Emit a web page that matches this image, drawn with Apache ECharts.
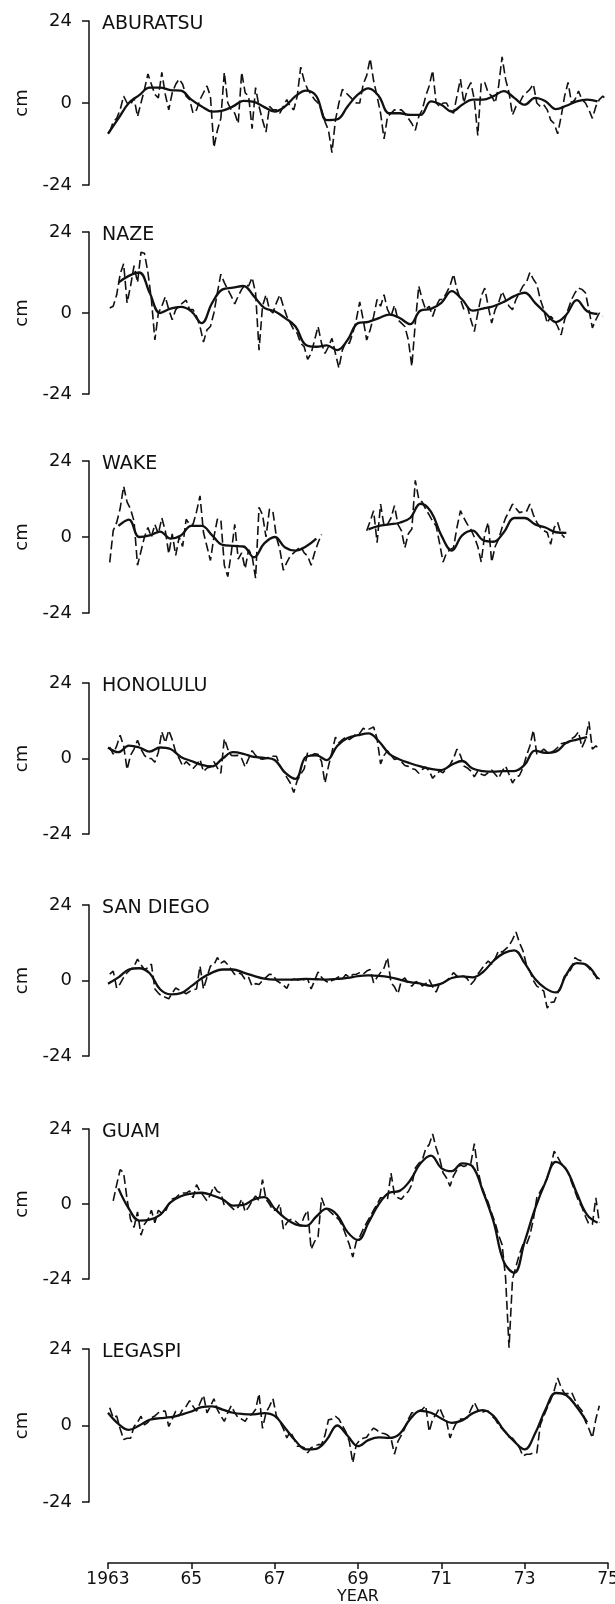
<!DOCTYPE html>
<html style="height: 100%">
<head>
    <meta charset="utf-8">
    <script src="https://cdn.jsdelivr.net/npm/echarts@6/dist/echarts.min.js"></script>
</head>
<body style="height: 100%; margin: 0; background: #fff">
    <div id="main" style="width: 615px; height: 1604px;"></div>
    <script type="text/javascript">
        // station names, top to bottom
        var stations = ['ABURATSU', 'NAZE', 'WAKE', 'HONOLULU', 'SAN DIEGO', 'GUAM', 'LEGASPI'];
        var yearLabels = ['1963', '65', '67', '69', '71', '73', '75'];

        // monthly sea level anomaly (cm), Jan 1963 .. Dec 1974, dashed curves
        var aburatsuMonthly = [
            -8.5, -5.5, -4.5, -2, 2, 0, -0.5, 1.5, -4, 0, 4, 8.5,
            5.5, 2.5, 1.5, 9, 2.5, -2, 3, 5.5, 7, 5.5, 2, 1,
            -3, -2, 1, 3, 5, 2, -13, -8, -4.5, 9, 0, -2,
            -3, -6, 9, 3, 2, -7.5, 4.5, -1, -5, -8.5, -1, -2,
            -2, -3, -1, 1, -1, -2, 2, 10.5, 6.5, 4, 2.5, 1,
            0, -2, -5.5, -8, -14.5, -5, 0, 4, 3, 2, 1, 0,
            0, 5.5, 8, 13, 6.5, 2, -3, -10.5, -4, -3, -2, -2,
            -2, -3, -4.5, -6, -8, -4, -2, 2, 5, 9.5, 0, -1,
            0, 0, -2, -3, 2, 7, 0, 4, 6, 1, -9.5, 6,
            6, 3, 2, 0, 5, 13.5, 7, 3, -3.5, -1, 0, 2,
            3, 4, 5.5, 0, -1, -0.5, -2, -5, -6, -9, -4, 2,
            6, 0, 1, 3.5, 1, 0, -2, -4.5, -1, 1, 2, 1
        ];
        var nazeMonthly = [
            1.5, 2, 5.4, 11.5, 14.6, 3, 8, 14, 9, 18, 17.7, 12,
            4, -8, 0, 2, 4.8, 1, -2, 1, 2, 3, 3.8, 1,
            1, -1, -4, -8.6, -5, -4, 0, 6, 11.5, 9, 7, 5,
            2.7, 5, 7, 8.5, 8, 10.5, 6, -11, 2, 5.4, 1, 0,
            3, 5.4, 2, -1, -3, -5, -6, -9, -10, -13.7, -12, -8,
            -4, -9, -12, -10, -7.5, -12, -16.3, -11, -8.6, -9, -6, -2,
            3.3, -2, -8, -5, -1, 4, 2, 5.4, 1, -1, 2.3, -2,
            -3, -4, -8, -15.8, -3, 8, 4, 1, 2, -1, 2, 4,
            4, 6, 8, 11.5, 7, 4, 1, 2, -2, -5.5, 0, 5,
            7.4, 2, -3, 1, 3, 6.4, 4, 2, 1, 4, 6, 8,
            9, 12, 10, 8.5, 4, 1, -3, -1, -2, -4, -6.5, -2,
            1, 4, 6, 7.4, 7, 6, 1, -4.4, -2, 0, -1, null
        ];
        var wakeMonthly = [
            -8, 2, 4.6, 9, 16, 11, 8.8, 5, -8.9, -4.5, 0, 3,
            0, 4, 1, 6, 2, -5.3, 1, -5.8, 0, -3, 5.6, 4,
            4, 8, 13, 1.4, -3, -7.4, 0, 5.6, 5.6, -8.9, -12.5, -5,
            4, -7, -5, -10, -4, -6, -13, 9.4, 7, 0, 8.8, 8,
            0, -4, -10.5, -8, -6, -5, -4, -3, -5, -6, -8.9, -5,
            -1.8, 0.8, null, null, null, null, null, null, null, null, null, null,
            null, null, 2, 5, 8.3, -1.8, 10.4, 3.5, 4, 6, 9.9, 4,
            2, -3.4, 1, 2.5, 17.9, 12, 11, 8.8, 7, 5, 3.5, -2,
            -7.9, -5, -4, -3.4, 3, 8.3, 6, 4, 2.4, 0, -3, -7.9,
            1, 4.6, -7.9, -3, -0.7, 3, 6, 8, 10.4, 9, 7.7, 8,
            8, 10.4, 7, 4.6, 3, 2, 1.4, -2.3, 3, 4.6, 1, -0.2,
            null, null, null, null, null, null, null, null, null, null, null, null
        ];
        var honoluluMonthly = [
            3.6, 1.4, 4, 7.4, 4, -3.5, 1, 3, 5.8, 3, 1, 0,
            0, -1.2, 2, 8.5, 5, 9, 6, 2, 0, -2.4, -1, -2,
            -3.2, -2, -0.3, -4.2, -3, -2.7, -1, -3, -4.7, 6.3, 3, 1,
            0.9, 1, 0, -2.7, 0, 2.5, 1, 0, -0.2, 0, 0.5, 0.7,
            0.7, -2.2, -4, -6, -7.8, -10.8, -7, -5, -3.3, 2, 1, 1.5,
            1.3, -1, -7.8, -2.4, 2, 6.8, 5, 6, 6.8, 6, 6.8, 8,
            8, 9.6, 9, 9.5, 10, 6.3, -1.7, 1, 2.5, 1, -0.3, 0,
            -1, -2.2, -2.5, -3.2, -3.5, -4.7, -3.5, -2.7, -4, -6.3, -5, -4,
            -4.5, -3, -2, 0, 3, 1, -2.4, -3, -4, -5.8, -4, -5,
            -5.4, -4.5, -3.7, -5, -6.3, -4, -2.4, -5, -7.8, -6, -5.4, -3,
            0.8, 4, 9, 1.4, 2, 3, 2, 1.9, 2.5, 3.5, 4.7, 5,
            5, 6.3, 7, 8.5, 3.5, 6, 11.7, 3, 4, 3, null, null
        ];
        var sanDiegoMonthly = [
            2, 3, -2.4, -1, 1, 2.5, 3.5, 4.5, 6.8, 5, 3.5, 4,
            5.2, -2.7, -4, -5, -5.3, -5.8, -4, -2.4, -3, -3.5, -4.2, -3.5,
            -3, -2.7, 4.6, -2.7, 1, 4.6, 5, 7.3, 5.5, 6.2, 5, 3.5,
            1.9, 2.5, 2, 0.3, 1, -1.8, -1, -1.3, 0, 1, 2, 1.9,
            0, -0.7, -1.5, -2.5, 0, 0.5, 0.3, 0, 0.3, 0.5, -2.7, 0,
            2.7, 1, 0, -0.7, 0, 0.5, 1.2, 0.5, 1.9, 1, 1.9, 2,
            2.5, 2, 3, 3.5, -0.7, 1, 2.5, 4, 7.3, -0.7, -2, -4.2,
            0, 0.8, -1, -1.8, -0.5, -0.2, -1.8, -1, 0.3, -2, -3.7, -1,
            -0.7, 0, 1, 2.5, 1.4, 1, 1.4, 0.5, -1.3, 0, 2, 3.5,
            5, 6.2, 5.2, 7, 9.5, 9, 10, 11, 13, 15.4, 12, 9.5,
            5, 3, 0, -1.8, -2.5, -3.4, -8.8, -7, -6.8, -4, -1.8, 1.4,
            2, 4, 7.3, 6.5, 6.2, 5, 4, 2.5, 1.4, 0.5, -0.2, null
        ];
        var guamMonthly = [
            null, 1, 6.2, 11, 10, 1.5, -5, -7.5, -2.5, -10, -6.5, -5,
            -2, -6, -2, -3, -2.5, 0, 1.6, 2, 3, 3.5, 3.5, 4.2,
            2, 6.2, 4, 2.6, 1, 3, 5.7, 4, 3.5, -0.5, 0, -1,
            -2, -1, 1.6, -2.5, -1, 1, 2.6, 1, 7.8, 1.5, 0, -2,
            -2, 0, -8, -6, -5, -5, -6, -7, -4, -2, -14.5, -12,
            -10.5, 2, -1, -2, -3, -4, -5, -7, -10, -13, -17, -12,
            -10.5, -8, -6, -4, -2, 0, 2, 2, 1.5, 9.9, 3, 2,
            1.5, 3, 4, 6.2, 11.5, 13, 14, 17.7, 19, 22.4, 18, 14.6,
            10, 8.3, 5.7, 9, 11, 12.5, 12, 12.5, 13, 19.3, 11, 6,
            3, 0.5, -3, -6, -10, -13, -23.5, -46, -24, -20, -16, -13,
            -13, -10, -5, 2, 4, 6, 8.3, 12, 16.9, 15, 13, 12,
            10, 7, 4, 1, -1, -4, -6.5, -6.5, 2, -6, null, null
        ];
        var legaspiMonthly = [
            5.6, 2.4, 3, -1, -4.4, -4, -4, -0.3, 1, 2.9, 0.2, 1,
            2.4, 3, 4, 4.5, 4.5, -0.3, 2, 4.5, 3, 5, 6, 7.8,
            6, 4.5, 7, 9.5, 4, 6, 8.4, 5, 3, 1.3, 4, 6.2,
            4, 2.4, 2, 1.3, 3, 3.5, 5, 10, -0.9, 4, 6, 8.4,
            3, 1.3, -1, -3.9, -1.9, -4, -6.5, -6.5, -7, -8.6, -7, -6.5,
            -6, -6, -3, 1.8, 2, 2.9, 2, 0, -2, -5, -11.7, -6,
            -4.6, -4, -3.7, -2, -0.8, -1.5, -2.4, -2.5, -3, -4, -9, -5,
            -3, -0.8, 2, 4, 4, 4.6, 5, 6.2, -1.9, 2, 3.5, 5.6,
            3, 1.3, -3.9, -1, 1.3, 2, 2, 2.4, 5, 7.3, 5, 4,
            4.5, 4.5, 3, 2, 0.2, -1, -2, -3.6, -4, -5.4, -7, -9.6,
            -9, -9, -8.6, -8.6, 0.2, 3, 5.6, 8, 11, 14.9, 12, 10,
            10, 10.5, 8, 6, 4.6, 1.3, -1, -3.9, 2, 6.2, null, null
        ];

        // smoothed curves (cm), every quarter year 1963.00 .. 1975.00, solid curves
        var aburatsuSmooth = [-9, -4.5, 0, 2.3, 4.5, 4.5, 3.8, 3.6, 1, -1, -2.5, -2.2, -1, 0.6, 0.3, -1.2,
            -2.5, -1, 2, 3.6, 2, -5, -4.8, -1, 2.5, 4.3, 2, -3, -3, -3.5, -3.5, 0.5,
            -0.5, -2.5, -0.5, 1, 1, 2, 3.5, 1.5, -0.5, 1.5, 0.5, -1.8, -0.8, 0.5, 1, 0.5, null];
        var nazeSmooth = [null, 9, 11, 12, 6, 0, 1.3, 1.8, 0.5, -3, 3, 7, 7.5, 8, 5, 1.5,
            0.5, -1.5, -4, -9.5, -10, -9.6, -11, -8, -3, -2.6, -1.5, -0.5, -1.5, -3.3, 0.7, 1.2,
            3, 6.5, 4, 0.7, 1.3, 2, 3.3, 5, 6, 3, 0, -2.7, -0.5, 3.8, 0.5, -0.3, null];
        var wakeSmooth = [null, 3.5, 5.5, 0, 0.5, 1.7, -0.5, 0.5, 3.5, 3.5, 0.5, -2.5, -2.8, -3, -6.4, -2,
            0, -3.3, -4.3, -3, -0.5, null, null, null, null, 2.4, 3.5, 4, 4.5, 6, 10.5, 8,
            0.5, -4.3, 0.5, 2, -1, -1.5, 1.5, 6, 6, 4, 3, 1.5, 1.3, null, null, null, null];
        var honoluluSmooth = [3.5, 2, 4.1, 3.5, 2.2, 3.5, 3, 0.5, -0.8, -2, -2.5, 0, 2, 1.5, 0.5, 0.2,
            -0.5, -4.5, -6.5, 0.5, 1, -0.5, 4, 6.5, 7.4, 8, 5.5, 1.5, -0.3, -1.5, -2.5, -3.3,
            -3.7, -2, -0.8, -3.2, -4, -4.2, -4, -4, -2, 2.5, 1.8, 2.2, 5, 6, 6.8, null, null];
        var sanDiegoSmooth = [-1, 1, 3.5, 3.9, 2.3, -2.8, -4.4, -4, -1.8, 0.7, 2.5, 3.5, 3.5, 2.5, 1.5, 0.6,
            0.3, 0.3, 0.3, 0.5, 0.4, 0.3, 0.5, 0.8, 1.4, 1.6, 1.5, 1.1, 0.3, -0.5, -1, -1.7,
            -1, 0.8, 1.3, 1, 2.7, 6.2, 8.7, 9.6, 5.5, 0.5, -2.5, -3.8, 1.9, 5.5, 4.8, 0.5, null];
        var guamSmooth = [null, 5, -1.5, -5.3, -5, -3.5, 0.5, 2.5, 3.3, 3.6, 2.8, 1.5, -0.5, -0.3, 1.5, 2.2,
            -1.5, -4.5, -6.5, -7, -4, -1.5, -3.5, -9, -11.5, -6, 0, 3.6, 4.2, 7.5, 13, 15.5,
            11.5, 10.5, 13, 12, 4, -5.5, -18.5, -22, -12, -1.5, 7, 13.5, 11, 3.5, -3.5, -6, null];
        var legaspiSmooth = [4, 0.5, -1.4, 0, 1.8, 2.3, 2.6, 3.4, 4.4, 5.8, 6, 5, 4, 3.6, 3.5, 3.9,
            3, -0.8, -4.8, -7.5, -7.3, -4.5, 0, -3.2, -6.5, -4.6, -3.7, -3.9, -2.6, 2, 4.6, 4,
            2.2, 0.8, 1.6, 3.8, 4.8, 3, -1.5, -5, -7.5, -2.5, 5, 10.2, 9.5, 5.8, 1, null, null];

        var monthly = [aburatsuMonthly, nazeMonthly, wakeMonthly, honoluluMonthly, sanDiegoMonthly, guamMonthly, legaspiMonthly];
        var smooth = [aburatsuSmooth, nazeSmooth, wakeSmooth, honoluluSmooth, sanDiegoSmooth, guamSmooth, legaspiSmooth];

        // layout (pixels): y of the +24 and -24 levels of each panel
        var ink = '#111';
        var font = 'DejaVu Sans';
        var axisX = 89, x63 = 108, x75 = 608;
        var pxPerYear = (x75 - x63) / 12;
        var xMin = 1963 - (x63 - axisX) / pxPerYear;
        var panelTops = [21, 232, 461, 683, 905, 1129, 1349];
        var panelBottoms = [185, 394, 613, 834, 1056, 1279, 1502];
        var bottomAxisY = 1563;

        var myChart = echarts.init(document.getElementById('main'));

        var grids = [], xAxes = [], yAxes = [], series = [], titles = [];
        for (var i = 0; i < stations.length; i++) {
            var panelY = panelTops[i];
            grids.push({
                left: axisX, width: x75 - axisX, top: panelY, height: panelBottoms[i] - panelY,
                outerBoundsMode: 'none', containLabel: false
            });
            xAxes.push({ gridIndex: i, type: 'value', min: xMin, max: 1975, show: false });
            yAxes.push({
                gridIndex: i, type: 'value', min: -24, max: 24, interval: 24,
                axisLine: { show: true, lineStyle: { color: ink, width: 1.5 } },
                axisTick: { show: true, length: 7, lineStyle: { color: ink, width: 1.5 } },
                axisLabel: { color: ink, fontSize: 18, fontFamily: font, margin: 17 },
                splitLine: { show: false },
                name: 'cm', nameLocation: 'middle', nameRotate: 90, nameGap: 50,
                nameTextStyle: { color: ink, fontSize: 18, fontFamily: font }
            });
            titles.push({
                text: stations[i], left: axisX + 8, top: panelY - 11,
                textStyle: { color: ink, fontSize: 19, fontWeight: 'normal', fontFamily: font }
            });
            var mData = [];
            for (var k = 0; k < monthly[i].length; k++) {
                mData.push([1963 + (k + 0.5) / 12, monthly[i][k]]);
            }
            var sData = [];
            for (var j = 0; j < smooth[i].length; j++) {
                sData.push([1963 + j * 0.25, smooth[i][j]]);
            }
            series.push({
                type: 'line', xAxisIndex: i, yAxisIndex: i, data: mData,
                symbol: 'none', clip: false,
                lineStyle: { color: ink, width: 1.6, type: [9, 4] }
            });
            series.push({
                type: 'line', xAxisIndex: i, yAxisIndex: i, data: sData,
                symbol: 'none', clip: false, smooth: 0.4,
                lineStyle: { color: ink, width: 2.3 }
            });
        }

        // shared year axis at the bottom, counted in years since 1963
        var bi = stations.length;
        grids.push({
            left: x63, width: x75 - x63, top: bottomAxisY - 10, height: 10,
            outerBoundsMode: 'none', containLabel: false
        });
        xAxes.push({
            gridIndex: bi, type: 'value', min: 0, max: 12, interval: 2,
            axisLine: { show: true, lineStyle: { color: ink, width: 1.5 } },
            axisTick: { show: true, length: 6, lineStyle: { color: ink, width: 1.5 } },
            axisLabel: {
                color: ink, fontSize: 17, fontFamily: font, margin: 8,
                formatter: function (v) { return yearLabels[Math.round(v / 2)] || ''; }
            },
            splitLine: { show: false },
            name: 'YEAR', nameLocation: 'middle', nameGap: 22,
            nameTextStyle: { color: ink, fontSize: 16, fontFamily: font }
        });
        yAxes.push({ gridIndex: bi, type: 'value', min: 0, max: 1, show: false });

        var option = {
            animation: false,
            backgroundColor: '#fff',
            title: titles,
            grid: grids,
            xAxis: xAxes,
            yAxis: yAxes,
            series: series
        };
        myChart.setOption(option);
    </script>
</body>
</html>
